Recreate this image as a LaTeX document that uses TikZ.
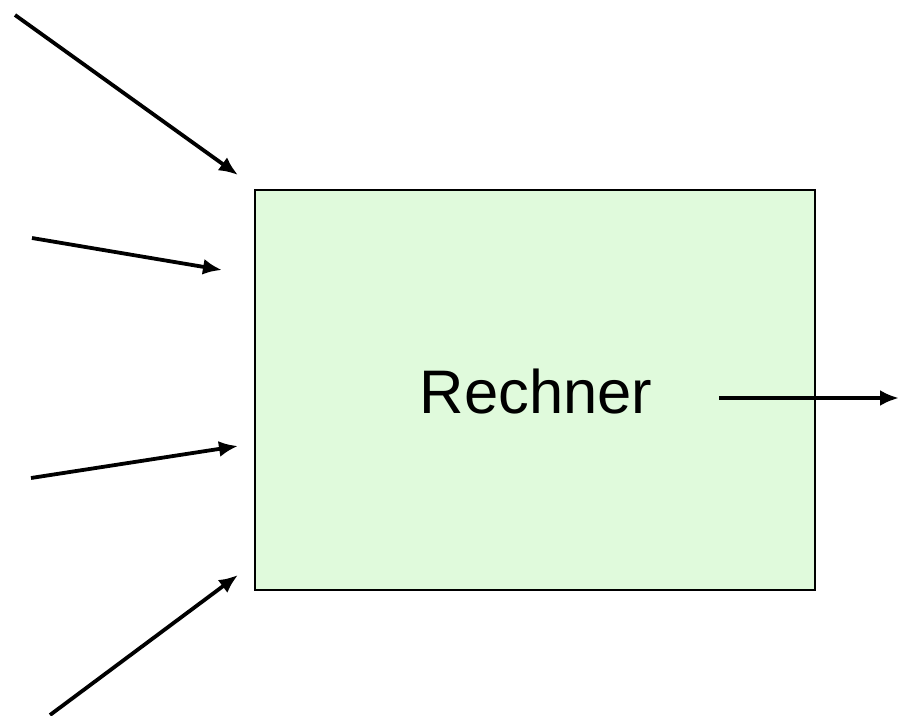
\documentclass[tikz,border=0pt]{standalone}
\usepackage{fontspec}
\setmainfont{Liberation Sans}
\usepackage{tikz}
\usetikzlibrary{arrows.meta}
\tikzset{>={Latex[length=19pt,width=16pt]}}
\definecolor{boxgreen}{RGB}{224,250,220}

\begin{document}
\begin{tikzpicture}[x=1pt, y=-1pt]
\useasboundingbox (0,0) rectangle (899,715);
\node (rechner) [draw, line width=2pt, fill=boxgreen, minimum width=560pt, minimum height=400pt, inner sep=0pt] at (535,390) {};
\node (label) [font=\fontsize{61.5}{63}\selectfont, anchor=base, inner sep=0pt] at (536,413) {Rechner};
\coordinate (in1) at (15,15);   \coordinate (tip1) at (238,175);
\coordinate (in2) at (32,238);  \coordinate (tip2) at (222,270);
\coordinate (in3) at (31,478);  \coordinate (tip3) at (238,446);
\coordinate (in4) at (50,715);  \coordinate (tip4) at (238,575);
\coordinate (out) at (719,398); \coordinate (tipout) at (899,398);
\path[every edge/.style={draw, ->, line width=3.8pt}]
(in1) edge (tip1)
(in2) edge (tip2)
(in3) edge (tip3)
(in4) edge (tip4)
(out) edge (tipout)
;
\end{tikzpicture}
\end{document}
